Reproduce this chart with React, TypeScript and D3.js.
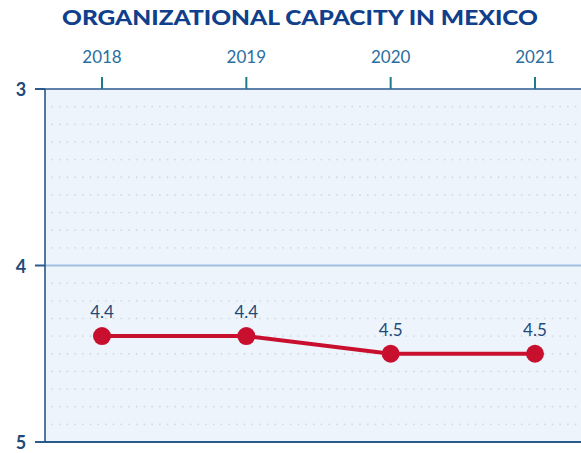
import React from "react";
import * as d3 from "d3";

const years = ["2018", "2019", "2020", "2021"];
const values = [4.4, 4.4, 4.5, 4.5];
const valueLabels = ["4.4", "4.4", "4.5", "4.5"];
const yTicks = [3, 4, 5];
const gridValues = d3.range(31, 50).map((v) => v / 10).filter((v) => v !== 4);

const W = 581;
const H = 453;

export default function App() {
  const x = d3.scalePoint<string>().domain(years).range([45, 592]).padding(0.395);
  const y = d3.scaleLinear().domain([3, 5]).range([89, 442]);
  const line = d3
    .line<number>()
    .x((_, i) => x(years[i]) as number)
    .y((d) => y(d));
  const dotXs = d3.range(52, 581, 7.7);

  return (
    <svg
      width={W}
      height={H}
      style={{ position: "absolute", left: 0, top: 0, background: "#ffffff" }}
    >
      <text
        x={300}
        y={25}
        textAnchor="middle"
        fontFamily="Lato, sans-serif"
        fontWeight={900}
        fontSize={21}
        fill="#103f8c"
        textLength={476}
        lengthAdjust="spacingAndGlyphs"
      >
        ORGANIZATIONAL CAPACITY IN MEXICO
      </text>
      <rect x={45} y={89} width={W - 45} height={442 - 89} fill="#eef4fc" />
      {gridValues.map((g) => (
        <g key={g}>
          {dotXs.map((dx, j) => (
            <circle key={j} cx={dx} cy={y(g)} r={0.9} fill="#d0d9e3" />
          ))}
        </g>
      ))}
      <line x1={45} x2={W} y1={y(4)} y2={y(4)} stroke="#9fbfe0" strokeWidth={2} />
      <line x1={35} x2={W} y1={y(3)} y2={y(3)} stroke="#2b5a8c" strokeWidth={1.5} />
      <line x1={35} x2={W} y1={y(5)} y2={y(5)} stroke="#2b5a8c" strokeWidth={2} />
      <line x1={45} x2={45} y1={y(3)} y2={y(5)} stroke="#1d4a80" strokeWidth={1.5} />
      {yTicks.map((t) => (
        <g key={t}>
          <line x1={35} x2={45} y1={y(t)} y2={y(t)} stroke="#2b5a8c" strokeWidth={2} />
          <text
            x={21}
            y={y(t) + 7}
            textAnchor="middle"
            fontFamily="Lato, sans-serif"
            fontWeight={700}
            fontSize={18}
            fill="#1d4a7a"
          >
            {t}
          </text>
        </g>
      ))}
      {years.map((yr) => (
        <g key={yr}>
          <line
            x1={x(yr) as number}
            x2={x(yr) as number}
            y1={77}
            y2={89}
            stroke="#1f7a8c"
            strokeWidth={2}
          />
          <text
            x={x(yr) as number}
            y={63}
            textAnchor="middle"
            fontFamily="Lato, sans-serif"
            fontSize={17}
            fill="#2a6e9e"
          >
            {yr}
          </text>
        </g>
      ))}
      <path d={line(values) ?? ""} fill="none" stroke="#c8102e" strokeWidth={4} />
      {values.map((v, i) => (
        <g key={i}>
          <circle cx={x(years[i]) as number} cy={y(v)} r={9} fill="#c8102e" />
          <text
            x={x(years[i]) as number}
            y={y(v) - 18}
            textAnchor="middle"
            fontFamily="Lato, sans-serif"
            fontSize={17}
            fill="#1d4a7a"
          >
            {valueLabels[i]}
          </text>
        </g>
      ))}
    </svg>
  );
}
